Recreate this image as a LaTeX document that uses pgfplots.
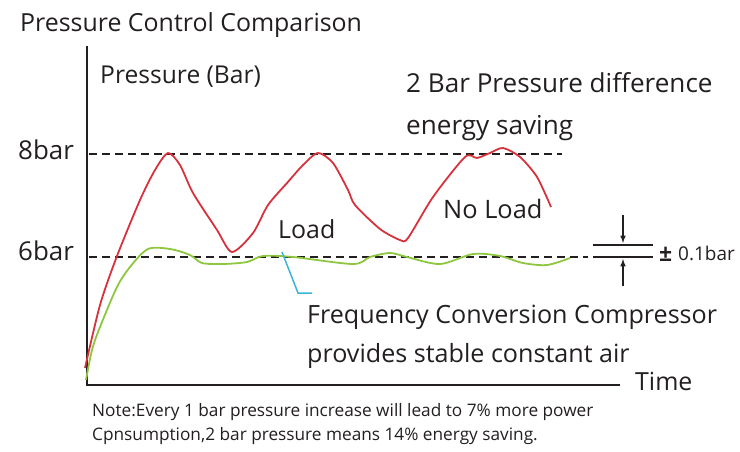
\documentclass[border=0pt]{standalone}
\usepackage{pgfplots}
\pgfplotsset{compat=1.18}
\usepackage{fontspec}
\setmainfont{Open Sans}
\definecolor{txt}{HTML}{231F20}
\definecolor{redc}{HTML}{D7323C}
\definecolor{greenc}{HTML}{8DC63F}
\definecolor{bluec}{HTML}{3DB4DA}
\begin{document}
\begin{tikzpicture}
\begin{axis}[
  scale only axis, width=740bp, height=451bp,
  xmin=0, xmax=740, ymin=0, ymax=451, y dir=reverse,
  hide axis, clip=false,
]
\path (axis cs:0,0) rectangle (axis cs:740,451);
% axes
\addplot[txt, line width=2.6pt] coordinates {(87,46) (87,385) (620,385)};
% dashed reference lines
\addplot[txt, line width=1.4pt, dash pattern=on 8bp off 5bp] coordinates {(89,154) (562,154)};
\addplot[txt, line width=1.4pt, dash pattern=on 8bp off 5bp] coordinates {(89,257) (588,257)};
% red curve (conventional)
\addplot[redc, line width=1.8pt, smooth, tension=0.45] coordinates {
 (85,368) (100,305) (117,256) (140,200) (155,170) (168,153) (180,165)
 (193,193) (217,230) (232,252) (253,233) (268,205) (287,183) (303,165)
 (318,153) (333,163) (348,190) (355,205) (380,229) (400,240) (408,238)
 (433,197) (465,157) (477,158) (490,153) (503,148) (520,157) (537,177) (551,207)};
% green curve (frequency conversion)
\addplot[greenc, line width=1.8pt, smooth, tension=0.5] coordinates {
 (86,380) (92,350) (100,327) (117,287) (130,267) (148,249) (170,249)
 (190,255) (202,263) (223,264) (247,262) (263,256) (293,257) (353,264)
 (370,257) (390,253) (407,257) (440,264) (473,254) (500,256) (523,263)
 (547,265) (570,258)};
% cyan leader
\addplot[bluec, line width=1.5pt] coordinates {(282,252) (298,293) (312,293)};
% tolerance symbol
\addplot[txt, line width=2.8pt] coordinates {(593,245) (653,245)};
\addplot[txt, line width=2.8pt] coordinates {(593,257) (653,257)};
\addplot[txt, line width=1.5pt, -latex] coordinates {(623,215) (623,243)};
\addplot[txt, line width=1.5pt, -latex] coordinates {(623,286) (623,259)};
% texts
\begin{scope}[every node/.style={inner sep=0pt, anchor=base west, text=txt}]
\node[font=\fontsize{25}{28}\selectfont] at (axis cs:20,32) {Pressure Control Comparison};
\node[font=\fontsize{24.7}{28}\selectfont] at (axis cs:100,83) {Pressure (Bar)};
\node[font=\fontsize{26}{28}\selectfont] at (axis cs:18,159) {8bar};
\node[font=\fontsize{26}{28}\selectfont] at (axis cs:18,260) {6bar};
\node[font=\fontsize{26.2}{28}\selectfont] at (axis cs:406,92) {2 Bar Pressure difference};
\node[font=\fontsize{26.2}{28}\selectfont] at (axis cs:406,134) {energy saving};
\node[font=\fontsize{25.5}{28}\selectfont] at (axis cs:443,218) {No Load};
\node[font=\fontsize{25}{28}\selectfont] at (axis cs:278,238) {Load};
\node[font=\fontsize{25.2}{28}\selectfont] at (axis cs:307,323) {Frequency Conversion Compressor};
\node[font=\fontsize{25.2}{28}\selectfont] at (axis cs:307,362) {provides stable constant air};
\node[font=\fontsize{25}{28}\selectfont] at (axis cs:635,390) {Time};
\node[font=\bfseries\fontsize{23}{28}\selectfont] at (axis cs:659,261) {±};
\node[font=\fontsize{19}{28}\selectfont] at (axis cs:678,260) {0.1bar};
\node[font=\fontsize{17.3}{20}\selectfont] at (axis cs:92,416) {Note:Every 1 bar pressure increase will lead to 7\% more power};
\node[font=\fontsize{17.3}{20}\selectfont] at (axis cs:92,440) {Cpnsumption,2 bar pressure means 14\% energy saving.};
\end{scope}
\end{axis}
\end{tikzpicture}
\end{document}
